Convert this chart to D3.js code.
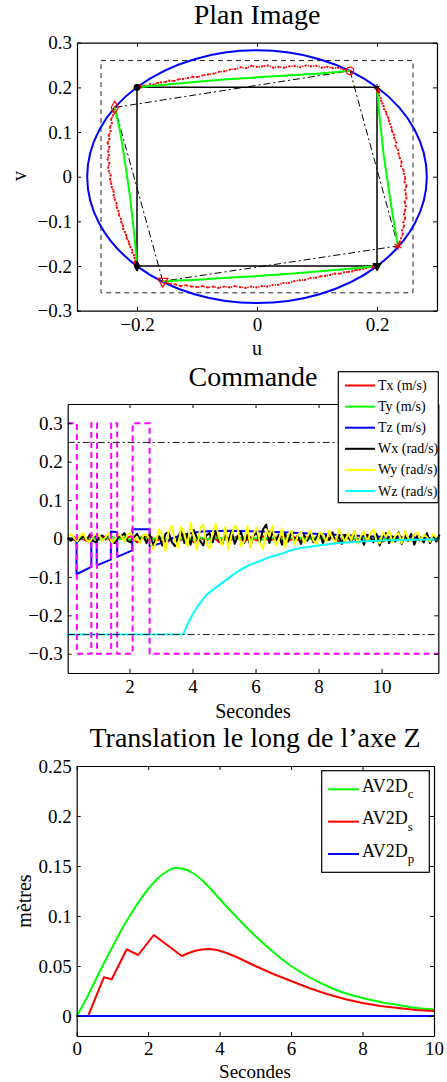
<!DOCTYPE html>
<html>
<head>
<meta charset="utf-8">
<script src="https://cdn.jsdelivr.net/npm/d3@7"></script>
<style>
body { margin: 0; background: #fff; }
text { font-family: "Liberation Serif", "Times New Roman", serif; fill: #000; }
</style>
</head>
<body>
<svg id="fig" width="447" height="1082"></svg>
<script>
// ---------- Plan Image ----------
const planXTicks = [-0.2, 0, 0.2];
const planYTicks = [-0.3, -0.2, -0.1, 0, 0.1, 0.2, 0.3];
const startCorners = [[-0.2, 0.2], [0.2, 0.2], [0.2, -0.2], [-0.2, -0.2]];
const endCorners = [[0.155, 0.237], [0.235, -0.155], [-0.157, -0.234], [-0.237, 0.155]];
const cornerMarkers = ["circle", "asterisk", "triangle", "diamond"];
const limitBox = 0.26;
const circleRadius = 0.283;

// straight-line (green) image paths
const greenTop = [[-0.2, 0.2], [-0.15, 0.2065], [-0.1, 0.2125], [-0.05, 0.218], [0, 0.2225], [0.05, 0.2265], [0.1, 0.2305], [0.155, 0.237]];
const greenRight = [[0.2, 0.2], [0.203, 0.15], [0.207, 0.1], [0.211, 0.05], [0.2165, 0], [0.222, -0.05], [0.228, -0.1], [0.235, -0.155]];
const greenBottom = [[0.2, -0.2], [0.15, -0.2065], [0.1, -0.2125], [0.05, -0.218], [0, -0.2225], [-0.05, -0.2265], [-0.1, -0.2305], [-0.157, -0.234]];
const greenLeft = [[-0.2, -0.2], [-0.203, -0.15], [-0.207, -0.1], [-0.211, -0.05], [-0.2165, 0], [-0.222, 0.05], [-0.228, 0.1], [-0.237, 0.155]];

// measured (red) image trajectories
const redTop = [[-0.200,0.200],[-0.198,0.200],[-0.196,0.202],[-0.192,0.201],[-0.188,0.204],[-0.183,0.203],[-0.178,0.207],[-0.172,0.206],[-0.166,0.210],[-0.160,0.211],[-0.153,0.212],[-0.146,0.215],[-0.139,0.214],[-0.131,0.218],[-0.123,0.219],[-0.115,0.221],[-0.107,0.224],[-0.099,0.223],[-0.090,0.227],[-0.081,0.229],[-0.072,0.231],[-0.063,0.235],[-0.054,0.236],[-0.045,0.240],[-0.036,0.241],[-0.027,0.245],[-0.018,0.243],[-0.009,0.248],[0.000,0.246],[0.009,0.247],[0.018,0.249],[0.027,0.244],[0.036,0.246],[0.045,0.244],[0.054,0.247],[0.063,0.248],[0.072,0.245],[0.081,0.249],[0.090,0.247],[0.099,0.248],[0.108,0.244],[0.117,0.246],[0.126,0.243],[0.135,0.244],[0.144,0.240],[0.150,0.239],[0.155,0.237]];
const redRight = [[0.200,0.200],[0.200,0.197],[0.201,0.194],[0.203,0.188],[0.203,0.182],[0.206,0.176],[0.207,0.170],[0.209,0.164],[0.211,0.158],[0.212,0.151],[0.215,0.145],[0.216,0.139],[0.219,0.132],[0.220,0.125],[0.222,0.118],[0.224,0.110],[0.225,0.102],[0.228,0.094],[0.229,0.086],[0.232,0.077],[0.231,0.068],[0.235,0.060],[0.236,0.051],[0.238,0.042],[0.241,0.033],[0.240,0.024],[0.244,0.015],[0.245,0.006],[0.247,-0.003],[0.246,-0.012],[0.249,-0.021],[0.247,-0.030],[0.248,-0.039],[0.249,-0.048],[0.246,-0.057],[0.248,-0.066],[0.247,-0.075],[0.245,-0.084],[0.247,-0.093],[0.244,-0.102],[0.245,-0.111],[0.242,-0.120],[0.243,-0.129],[0.240,-0.138],[0.238,-0.146],[0.235,-0.155]];
const redBottom = [[0.200,-0.200],[0.198,-0.200],[0.196,-0.201],[0.192,-0.203],[0.187,-0.202],[0.182,-0.205],[0.177,-0.206],[0.171,-0.208],[0.165,-0.209],[0.159,-0.212],[0.152,-0.213],[0.145,-0.214],[0.138,-0.217],[0.130,-0.217],[0.122,-0.220],[0.114,-0.222],[0.106,-0.223],[0.098,-0.226],[0.089,-0.227],[0.080,-0.231],[0.071,-0.232],[0.062,-0.234],[0.053,-0.238],[0.044,-0.238],[0.035,-0.242],[0.026,-0.243],[0.017,-0.246],[0.008,-0.245],[-0.001,-0.248],[-0.010,-0.246],[-0.019,-0.249],[-0.028,-0.247],[-0.037,-0.245],[-0.046,-0.248],[-0.055,-0.246],[-0.064,-0.249],[-0.073,-0.246],[-0.082,-0.248],[-0.091,-0.245],[-0.100,-0.247],[-0.109,-0.246],[-0.118,-0.243],[-0.127,-0.245],[-0.136,-0.241],[-0.145,-0.240],[-0.151,-0.237],[-0.157,-0.234]];
const redLeft = [[-0.200,-0.200],[-0.201,-0.197],[-0.202,-0.194],[-0.202,-0.188],[-0.204,-0.182],[-0.205,-0.176],[-0.208,-0.170],[-0.208,-0.164],[-0.211,-0.157],[-0.213,-0.151],[-0.214,-0.145],[-0.217,-0.138],[-0.218,-0.131],[-0.220,-0.124],[-0.223,-0.117],[-0.223,-0.110],[-0.226,-0.102],[-0.227,-0.094],[-0.230,-0.086],[-0.231,-0.077],[-0.234,-0.069],[-0.234,-0.060],[-0.237,-0.051],[-0.239,-0.042],[-0.239,-0.033],[-0.242,-0.024],[-0.243,-0.015],[-0.245,-0.006],[-0.244,0.003],[-0.247,0.012],[-0.248,0.021],[-0.246,0.030],[-0.249,0.039],[-0.247,0.048],[-0.248,0.057],[-0.246,0.066],[-0.249,0.075],[-0.246,0.084],[-0.247,0.093],[-0.244,0.102],[-0.245,0.111],[-0.242,0.120],[-0.243,0.129],[-0.240,0.137],[-0.239,0.146],[-0.237,0.155]];

// ---------- Commande ----------
const cmdXTicks = [2, 4, 6, 8, 10];
const cmdYTicks = [-0.3, -0.2, -0.1, 0, 0.1, 0.2, 0.3];
const cmdNames = ["Tx (m/s)", "Ty (m/s)", "Tz (m/s)", "Wx (rad/s)", "Wy (rad/s)", "Wz (rad/s)"];
const cmdColors = ["#ff0000", "#00ff00", "#0000ff", "#000000", "#ffff00", "#00ffff"];
const cmdLimits = [0.25, -0.25];
const noiseStart = 0.04, noiseStep = 0.1, slowStep = 0.2;

const tx = [0.000,-0.004,0.003,-0.006,0.002,-0.003,0.005,-0.008,0.004,-0.002,0.006,-0.010,0.002,0.007,-0.006,0.003,-0.008,0.005,-0.004,0.008,-0.010,0.002,-0.006,0.006,-0.009,0.004,-0.003,0.007,-0.008,0.003,-0.005,0.006,-0.007,0.002,0.005,-0.006,0.003,-0.008,0.004,-0.002,0.006,-0.005,0.002,-0.007,0.004,0.001,-0.006,0.005,-0.003,0.006,-0.008,0.003,-0.004,0.005,-0.002,0.004,-0.006,0.002,-0.003,0.001];
const ty = [0.001,-0.002,0.003,-0.001,0.002,-0.003,0.001,0.004,-0.002,0.002,-0.004,0.001,0.003,-0.002,0.000,0.002,-0.003,0.004,-0.001,0.002,-0.004,0.003,-0.002,0.001,0.003,-0.003,0.002,-0.001,0.004,-0.002,0.001,-0.003,0.002,0.000,-0.002,0.003,-0.001,0.002,-0.003,0.001,0.002,-0.002,0.003,-0.001,0.000,0.002,-0.002,0.001,-0.001,0.002,-0.002,0.001,0.000,0.001,-0.001,0.002,-0.001,0.000,0.001,0.000];
const tzT = [0.04, 0.32, 0.32, 0.79, 0.79, 0.96, 0.96, 1.41, 1.41, 1.61, 1.61, 2.09, 2.09, 2.64, 2.64, 3.0, 3.4, 3.8, 4.3, 5.0, 5.8, 6.6, 7.4, 8.2, 9.0, 9.8, 10.6, 11.8];
const tzV = [0.0, 0.0, -0.093, -0.074, 0.008, 0.005, -0.070, -0.055, 0.018, 0.016, -0.048, -0.031, 0.024, 0.024, -0.021, -0.012, 0.002, 0.012, 0.018, 0.020, 0.019, 0.017, 0.014, 0.011, 0.008, 0.005, 0.003, 0.0];
const wx = [0.002,-0.006,0.004,-0.008,-0.002,0.006,-0.004,0.010,-0.006,-0.010,0.003,0.008,-0.002,0.012,-0.008,-0.012,0.004,0.006,0.014,-0.006,-0.010,0.002,0.012,-0.004,0.008,-0.012,0.010,
  -0.014,-0.004,0.006,-0.018,0.012,0.016,-0.008,-0.020,0.004,0.020,-0.012,0.010,-0.016,0.022,0.002,-0.006,-0.018,0.008,0.014,-0.010,0.018,-0.004,-0.016,0.012,-0.008,0.020,-0.014,0.006,0.016,-0.012,0.010,-0.020,0.008,0.014,-0.010,0.024,0.036,-0.012,0.018,-0.006,0.010,-0.016,0.012,-0.008,0.016,-0.004,0.008,-0.014,
  0.010,-0.006,0.012,-0.010,0.004,0.014,-0.012,0.008,-0.004,0.016,-0.010,0.006,-0.014,0.010,0.002,-0.008,0.018,-0.012,0.006,-0.016,0.010,0.004,-0.010,0.012,-0.018,0.008,0.014,-0.012,0.006,-0.008,0.016,-0.014,0.010,-0.006,0.012,-0.016,0.008,0.002,-0.010,0.014,-0.012,0.006,-0.008,0.010];
const wy = [0.006,0.011,0.002,-0.007,0.009,0.013,-0.004,-0.010,0.005,0.012,0.008,-0.006,0.003,0.014,-0.011,-0.002,0.010,0.006,-0.008,0.012,0.015,-0.005,0.004,-0.012,0.009,0.011,-0.003,
  -0.028,-0.010,0.024,0.008,-0.032,0.018,0.033,-0.006,-0.024,0.030,0.012,-0.020,0.041,0.004,-0.030,0.026,0.036,-0.014,-0.026,0.016,0.038,0.002,-0.018,0.030,-0.028,0.010,0.034,0.022,-0.020,-0.008,0.032,-0.024,0.014,0.028,-0.012,-0.026,0.024,0.006,0.033,-0.018,-0.004,0.026,-0.022,0.012,0.020,-0.016,0.008,
  0.018,-0.012,0.004,0.022,-0.006,-0.014,0.016,0.010,-0.008,0.020,0.002,-0.012,0.024,0.008,-0.010,0.014,-0.004,0.021,-0.014,0.006,0.018,-0.008,0.012,0.024,-0.006,-0.012,0.016,0.004,0.020,-0.010,0.008,0.014,-0.012,0.018,0.002,-0.008,0.012,0.016,-0.006,0.010,0.004,-0.008,0.012,0.002];
const wzT = [0.04, 3.71, 3.85, 4.03, 4.2, 4.45, 4.65, 4.87, 5.1, 5.3, 5.55, 5.83, 6.1, 6.36, 6.6, 6.88, 7.15, 7.41, 7.7, 7.94, 8.3, 8.6, 9.0, 9.5, 10.05, 10.6, 11.2, 11.8];
const wzV = [-0.25, -0.249, -0.222, -0.194, -0.172, -0.146, -0.133, -0.120, -0.105, -0.094, -0.080, -0.068, -0.060, -0.051, -0.045, -0.038, -0.030, -0.025, -0.022, -0.019, -0.015, -0.012, -0.010, -0.007, -0.005, -0.004, -0.003, -0.002];
const switchT = [0.04, 0.33, 0.79, 0.97, 1.42, 1.61, 2.10, 2.64, 11.8];
const switchV = [0.3, -0.3, 0.3, -0.3, 0.3, -0.3, 0.3, -0.3, -0.3];

// ---------- Translation le long de l'axe Z ----------
const trXTicks = [0, 2, 4, 6, 8, 10];
const trYTicks = [0, 0.05, 0.1, 0.15, 0.2, 0.25];
const trNames = ["c", "s", "p"];
const trColors = ["#00ff00", "#ff0000", "#0000ff"];
const av2dcT = [0, 0.25, 0.5, 0.75, 1.0, 1.25, 1.5, 1.75, 2.0, 2.25, 2.5, 2.75, 3.0, 3.25, 3.5, 3.75, 4.0, 4.5, 5.0, 5.5, 6.0, 6.5, 7.0, 7.5, 8.0, 8.5, 9.0, 9.5, 10];
const av2dcV = [0, 0.016, 0.034, 0.052, 0.069, 0.086, 0.101, 0.115, 0.127, 0.137, 0.144, 0.148, 0.147, 0.143, 0.136, 0.127, 0.117, 0.098, 0.080, 0.064, 0.050, 0.039, 0.030, 0.023, 0.018, 0.014, 0.011, 0.008, 0.0065];
const av2dsT = [0, 0.32, 0.76, 0.98, 1.40, 1.72, 2.16, 2.94, 3.1, 3.3, 3.5, 3.7, 3.9, 4.2, 4.5, 5.0, 5.5, 6.0, 6.5, 7.0, 7.5, 8.0, 8.5, 9.0, 9.5, 10];
const av2dsV = [0, 0, 0.0387, 0.0367, 0.0667, 0.061, 0.081, 0.060, 0.0625, 0.065, 0.0665, 0.067, 0.0662, 0.063, 0.0585, 0.050, 0.042, 0.035, 0.028, 0.022, 0.017, 0.013, 0.010, 0.008, 0.006, 0.005];
const av2dpT = [0, 10];
const av2dpV = [0, 0];

const svg = d3.select("#fig");
const fmt = d3.format("~g");

function frame(x, y, xt, yt, pad) {
  const [x0, x1] = x.range(), [y0, y1] = y.range();
  const g = svg.append("g");
  const axes = [
    [d3.axisBottom(x).tickValues(xt).tickPadding(pad).tickFormat(fmt), `translate(0,${y0})`],
    [d3.axisTop(x).tickValues(xt).tickFormat(""), `translate(0,${y1})`],
    [d3.axisLeft(y).tickValues(yt).tickPadding(5).tickFormat(fmt), `translate(${x0},0)`],
    [d3.axisRight(y).tickValues(yt).tickFormat(""), `translate(${x1},0)`]
  ];
  axes.forEach(([a, tr]) => {
    g.append("g").attr("transform", tr)
      .call(a.tickSizeInner(-4).tickSizeOuter(0))
      .attr("font-family", null).attr("font-size", 19);
  });
  g.selectAll("path.domain").attr("stroke-width", 1.2);
  return g;
}

function label(txt, x, y, size, rot) {
  const t = svg.append("text").attr("text-anchor", "middle").attr("font-size", size).text(txt);
  if (rot) t.attr("transform", `translate(${x},${y}) rotate(-90)`);
  else t.attr("x", x).attr("y", y);
  return t;
}

// ===== panel 1 =====
const xU = d3.scaleLinear([-0.3, 0.3], [77, 437]);
const yV = d3.scaleLinear([-0.3, 0.3], [310.7, 42.7]);
const uvLine = d3.line(d => xU(d[0]), d => yV(d[1]));
const p1 = svg.append("g");

p1.append("rect")
  .attr("x", xU(-limitBox)).attr("y", yV(limitBox))
  .attr("width", xU(limitBox) - xU(-limitBox)).attr("height", yV(-limitBox) - yV(limitBox))
  .attr("fill", "none").attr("stroke", "#222").attr("stroke-dasharray", "5,4");
p1.append("ellipse")
  .attr("cx", xU(0)).attr("cy", yV(0))
  .attr("rx", xU(circleRadius) - xU(0)).attr("ry", yV(0) - yV(circleRadius))
  .attr("fill", "none").attr("stroke", "#0000ff").attr("stroke-width", 2);
p1.append("path").attr("d", uvLine(startCorners.concat([startCorners[0]])))
  .attr("fill", "none").attr("stroke", "#000").attr("stroke-width", 1.5);
p1.append("path").attr("d", uvLine(endCorners.concat([endCorners[0]])))
  .attr("fill", "none").attr("stroke", "#000").attr("stroke-width", 1).attr("stroke-dasharray", "7,3,2,3");

[redTop, redRight, redBottom, redLeft].forEach(tr => {
  p1.append("path").attr("d", uvLine(tr)).attr("fill", "none")
    .attr("stroke", "#ff0000").attr("stroke-width", 1.6).attr("stroke-dasharray", "1.3,1.5");
  p1.append("g").selectAll("circle").data(tr).join("circle")
    .attr("cx", d => xU(d[0])).attr("cy", d => yV(d[1])).attr("r", 1.1).attr("fill", "#ff0000");
});
[greenTop, greenRight, greenBottom, greenLeft].forEach(gp => {
  p1.append("path").attr("d", uvLine(gp)).attr("fill", "none")
    .attr("stroke", "#00ff00").attr("stroke-width", 2);
});
// thick red start clusters
[redTop, redRight, redBottom, redLeft].forEach(tr => {
  p1.append("path").attr("d", uvLine(tr.slice(0, 4))).attr("fill", "none")
    .attr("stroke", "#ff0000").attr("stroke-width", 3.5);
});

const symbolOf = { circle: d3.symbolCircle, asterisk: d3.symbolAsterisk, triangle: d3.symbolTriangle, diamond: d3.symbolDiamond };
cornerMarkers.forEach((m, i) => {
  const rot = m === "triangle" ? 180 : 0;
  p1.append("path").attr("d", d3.symbol(symbolOf[m], 30)())
    .attr("transform", `translate(${xU(startCorners[i][0])},${yV(startCorners[i][1])}) rotate(${rot})`)
    .attr("fill", m === "asterisk" ? "none" : "#000").attr("stroke", "#000").attr("stroke-width", 1);
  p1.append("path").attr("d", d3.symbol(symbolOf[m], 45)())
    .attr("transform", `translate(${xU(endCorners[i][0])},${yV(endCorners[i][1])}) rotate(${rot})`)
    .attr("fill", "none").attr("stroke", "#ff0000").attr("stroke-width", 1.2);
});
frame(xU, yV, planXTicks, planYTicks, 7);
label("Plan Image", 257, 24, 28);
label("u", 257, 355, 20);
label("v", 26, 176, 20, true);

// ===== panel 2 =====
const xT = d3.scaleLinear([0.04, 11.8], [67.7, 438.3]);
const yC = d3.scaleLinear([-0.35, 0.35], [673, 404]);
const p2 = svg.append("g");
const sampled = (vals, step) => vals.map((v, i) => [noiseStart + i * step, v]);
const tLine = d3.line(d => xT(d[0]), d => yC(d[1]));
const cmdSeries = [
  sampled(tx, slowStep),
  sampled(ty, slowStep),
  d3.zip(tzT, tzV),
  sampled(wx, noiseStep),
  sampled(wy, noiseStep),
  d3.zip(wzT, wzV)
];
cmdSeries.forEach((s, i) => {
  p2.append("path").attr("d", tLine(s)).attr("fill", "none")
    .attr("stroke", cmdColors[i]).attr("stroke-width", 2).attr("stroke-linejoin", "round");
});
const stepLine = d3.line(d => xT(d[0]), d => yC(d[1])).curve(d3.curveStepAfter);
p2.append("path").attr("d", stepLine(d3.zip(switchT, switchV)))
  .attr("fill", "none").attr("stroke", "#ff00ff").attr("stroke-width", 2).attr("stroke-dasharray", "6,4");
cmdLimits.forEach(l => {
  p2.append("line").attr("x1", xT(0.04)).attr("x2", xT(11.8)).attr("y1", yC(l)).attr("y2", yC(l))
    .attr("stroke", "#000").attr("stroke-width", 0.9).attr("stroke-dasharray", "7,3,2,3");
});
frame(xT, yC, cmdXTicks, cmdYTicks, 7);
label("Commande", 253, 386, 28);
label("Secondes", 253, 718, 20);

const lg2 = svg.append("g");
lg2.append("rect").attr("x", 338.3).attr("y", 371.7).attr("width", 100).attr("height", 131)
  .attr("fill", "#fff").attr("stroke", "#000").attr("stroke-width", 1.2);
cmdNames.forEach((n, i) => {
  const y = 385.5 + i * 21.1;
  lg2.append("line").attr("x1", 345).attr("x2", 375).attr("y1", y).attr("y2", y)
    .attr("stroke", cmdColors[i]).attr("stroke-width", 2);
  lg2.append("text").attr("x", 378).attr("y", y + 4.5).attr("font-size", 14).text(n);
});

// ===== panel 3 =====
const xB = d3.scaleLinear([0, 10], [76.7, 434]);
const yB = d3.scaleLinear([-0.02, 0.25], [1036, 766]);
const p3 = svg.append("g");
[d3.zip(av2dcT, av2dcV), d3.zip(av2dsT, av2dsV), d3.zip(av2dpT, av2dpV)].forEach((s, i) => {
  const bLine = d3.line(d => xB(d[0]), d => yB(d[1])).curve(i === 0 ? d3.curveMonotoneX : d3.curveLinear);
  p3.append("path").attr("d", bLine(s)).attr("fill", "none")
    .attr("stroke", trColors[i]).attr("stroke-width", 2).attr("stroke-linejoin", "round");
});
frame(xB, yB, trXTicks, trYTicks, 6);
label("Translation le long de l\u2019axe Z", 255, 747, 28);
label("Secondes", 255, 1077.5, 19);
label("mètres", 31, 901, 20, true);

const lg3 = svg.append("g");
lg3.append("rect").attr("x", 321.7).attr("y", 770.7).attr("width", 107.6).attr("height", 101.6)
  .attr("fill", "#fff").attr("stroke", "#000").attr("stroke-width", 1.2);
trNames.forEach((n, i) => {
  const y = 789.3 + i * 32.35;
  lg3.append("line").attr("x1", 328).attr("x2", 359).attr("y1", y).attr("y2", y)
    .attr("stroke", trColors[i]).attr("stroke-width", 2);
  const t = lg3.append("text").attr("x", 362).attr("y", y + 2.5).attr("font-size", 18);
  t.append("tspan").text("AV2D");
  t.append("tspan").attr("font-size", 13).attr("dy", 6.5).text(n);
});
</script>
</body>
</html>
